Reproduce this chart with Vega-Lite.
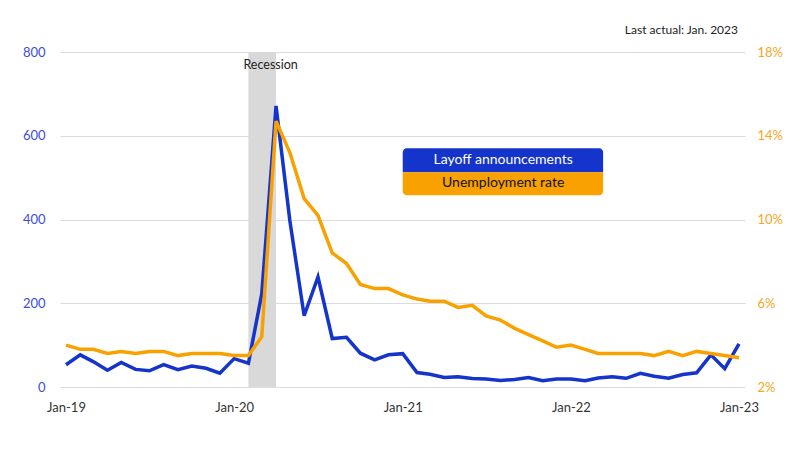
{
  "$schema": "https://vega.github.io/schema/vega-lite/v6.json",
  "width": 685,
  "height": 335,
  "autosize": {"type": "none"},
  "padding": {"left": 60, "top": 52, "right": 55, "bottom": 63},
  "background": "white",
  "config": {"font": "Lato", "view": {"stroke": null}},
  "title": {"text": "Last actual: Jan. 2023", "anchor": "end", "frame": "group", "fontSize": 12, "fontWeight": "normal", "color": "#222222", "offset": 9, "dx": -7},
  "datasets": {
    "main": [
      {"date": "2019-01-01", "layoffs": 53.0, "unemp": 4.0},
      {"date": "2019-02-01", "layoffs": 76.8, "unemp": 3.8},
      {"date": "2019-03-01", "layoffs": 60.6, "unemp": 3.8},
      {"date": "2019-04-01", "layoffs": 40.0, "unemp": 3.6},
      {"date": "2019-05-01", "layoffs": 58.6, "unemp": 3.7},
      {"date": "2019-06-01", "layoffs": 42.0, "unemp": 3.6},
      {"date": "2019-07-01", "layoffs": 38.8, "unemp": 3.7},
      {"date": "2019-08-01", "layoffs": 53.5, "unemp": 3.7},
      {"date": "2019-09-01", "layoffs": 41.6, "unemp": 3.5},
      {"date": "2019-10-01", "layoffs": 50.3, "unemp": 3.6},
      {"date": "2019-11-01", "layoffs": 44.6, "unemp": 3.6},
      {"date": "2019-12-01", "layoffs": 32.8, "unemp": 3.6},
      {"date": "2020-01-01", "layoffs": 67.7, "unemp": 3.5},
      {"date": "2020-02-01", "layoffs": 56.7, "unemp": 3.5},
      {"date": "2020-03-01", "layoffs": 222.3, "unemp": 4.4},
      {"date": "2020-04-01", "layoffs": 671.1, "unemp": 14.7},
      {"date": "2020-05-01", "layoffs": 397.0, "unemp": 13.2},
      {"date": "2020-06-01", "layoffs": 170.2, "unemp": 11.0},
      {"date": "2020-07-01", "layoffs": 262.6, "unemp": 10.2},
      {"date": "2020-08-01", "layoffs": 115.8, "unemp": 8.4},
      {"date": "2020-09-01", "layoffs": 118.8, "unemp": 7.9},
      {"date": "2020-10-01", "layoffs": 80.7, "unemp": 6.9},
      {"date": "2020-11-01", "layoffs": 64.8, "unemp": 6.7},
      {"date": "2020-12-01", "layoffs": 77.0, "unemp": 6.7},
      {"date": "2021-01-01", "layoffs": 79.6, "unemp": 6.4},
      {"date": "2021-02-01", "layoffs": 34.5, "unemp": 6.2},
      {"date": "2021-03-01", "layoffs": 30.6, "unemp": 6.1},
      {"date": "2021-04-01", "layoffs": 22.9, "unemp": 6.1},
      {"date": "2021-05-01", "layoffs": 24.6, "unemp": 5.8},
      {"date": "2021-06-01", "layoffs": 20.5, "unemp": 5.9},
      {"date": "2021-07-01", "layoffs": 18.9, "unemp": 5.4},
      {"date": "2021-08-01", "layoffs": 15.7, "unemp": 5.2},
      {"date": "2021-09-01", "layoffs": 17.9, "unemp": 4.8},
      {"date": "2021-10-01", "layoffs": 22.8, "unemp": 4.5},
      {"date": "2021-11-01", "layoffs": 14.9, "unemp": 4.2},
      {"date": "2021-12-01", "layoffs": 19.1, "unemp": 3.9},
      {"date": "2022-01-01", "layoffs": 19.1, "unemp": 4.0},
      {"date": "2022-02-01", "layoffs": 15.2, "unemp": 3.8},
      {"date": "2022-03-01", "layoffs": 21.4, "unemp": 3.6},
      {"date": "2022-04-01", "layoffs": 24.3, "unemp": 3.6},
      {"date": "2022-05-01", "layoffs": 20.7, "unemp": 3.6},
      {"date": "2022-06-01", "layoffs": 32.5, "unemp": 3.6},
      {"date": "2022-07-01", "layoffs": 25.8, "unemp": 3.5},
      {"date": "2022-08-01", "layoffs": 20.8, "unemp": 3.7},
      {"date": "2022-09-01", "layoffs": 30.0, "unemp": 3.5},
      {"date": "2022-10-01", "layoffs": 33.8, "unemp": 3.7},
      {"date": "2022-11-01", "layoffs": 76.8, "unemp": 3.6},
      {"date": "2022-12-01", "layoffs": 43.7, "unemp": 3.5},
      {"date": "2023-01-01", "layoffs": 102.9, "unemp": 3.4}
    ],
    "rec": [{"start": "2020-02-01", "end": "2020-04-01", "label": "Recession"}]
  },
  "layer": [
    {
      "layer": [
        {
          "data": {"name": "rec"},
          "mark": {"type": "rect", "color": "#d9d9d9", "opacity": 1},
          "encoding": {
            "x": {
              "field": "start", "type": "temporal", "title": null,
              "scale": {"type": "utc", "domain": [{"year": 2018, "month": 12, "date": 19, "utc": true}, {"year": 2023, "month": 1, "date": 14, "utc": true}]},
              "axis": {
                "values": [
                  {"year": 2019, "month": 1, "date": 1, "utc": true},
                  {"year": 2020, "month": 1, "date": 1, "utc": true},
                  {"year": 2021, "month": 1, "date": 1, "utc": true},
                  {"year": 2022, "month": 1, "date": 1, "utc": true},
                  {"year": 2023, "month": 1, "date": 1, "utc": true}
                ],
                "format": "%b-%y", "grid": false, "ticks": false, "domain": false,
                "labelFontSize": 13, "labelColor": "#333333", "labelPadding": 14, "labelFlush": false
              }
            },
            "x2": {"field": "end"}
          }
        },
        {
          "data": {"name": "main"},
          "mark": {"type": "line", "color": "#1434CB", "strokeWidth": 3.5},
          "encoding": {
            "x": {"field": "date", "type": "temporal", "title": null},
            "y": {
              "field": "layoffs", "type": "quantitative", "title": null,
              "scale": {"domain": [0, 800], "nice": false},
              "axis": {
                "values": [0, 200, 400, 600, 800], "grid": true, "gridColor": "#dcdcdc", "gridWidth": 1,
                "ticks": false, "domain": false, "labelColor": "#3a4ddb", "labelFontSize": 13, "labelPadding": 15
              }
            }
          }
        },
        {
          "data": {"name": "rec"},
          "mark": {"type": "text", "align": "left", "baseline": "middle", "dx": -5, "fontSize": 12.5, "color": "#222222"},
          "encoding": {
            "x": {"field": "start", "type": "temporal", "title": null},
            "y": {"datum": 770, "type": "quantitative", "title": null},
            "text": {"field": "label"}
          }
        },
        {
          "data": {"values": [{"series": "Layoff announcements"}]},
          "mark": {"type": "rect", "color": "#1434CB", "cornerRadiusTopLeft": 4, "cornerRadiusTopRight": 4},
          "encoding": {
            "x": {"datum": {"year": 2021, "month": 1, "date": 1, "utc": true}, "type": "temporal", "title": null},
            "x2": {"datum": {"year": 2022, "month": 3, "date": 12, "utc": true}},
            "y": {"datum": 570, "type": "quantitative", "title": null},
            "y2": {"datum": 513}
          }
        },
        {
          "data": {"values": [{"series": "Unemployment rate"}]},
          "mark": {"type": "rect", "color": "#F8A100", "cornerRadiusBottomLeft": 4, "cornerRadiusBottomRight": 4},
          "encoding": {
            "x": {"datum": {"year": 2021, "month": 1, "date": 1, "utc": true}, "type": "temporal", "title": null},
            "x2": {"datum": {"year": 2022, "month": 3, "date": 12, "utc": true}},
            "y": {"datum": 513, "type": "quantitative", "title": null},
            "y2": {"datum": 458}
          }
        },
        {
          "data": {"values": [{"series": "Layoff announcements"}]},
          "mark": {"type": "text", "align": "center", "baseline": "middle", "fontSize": 14, "color": "white"},
          "encoding": {
            "x": {"datum": {"year": 2021, "month": 8, "date": 7, "utc": true}, "type": "temporal", "title": null},
            "y": {"datum": 542, "type": "quantitative", "title": null},
            "text": {"field": "series"}
          }
        },
        {
          "data": {"values": [{"series": "Unemployment rate"}]},
          "mark": {"type": "text", "align": "center", "baseline": "middle", "fontSize": 14, "color": "#111111"},
          "encoding": {
            "x": {"datum": {"year": 2021, "month": 8, "date": 7, "utc": true}, "type": "temporal", "title": null},
            "y": {"datum": 486, "type": "quantitative", "title": null},
            "text": {"field": "series"}
          }
        }
      ]
    },
    {
      "data": {"name": "main"},
      "mark": {"type": "line", "color": "#F8A100", "strokeWidth": 3.5},
      "encoding": {
        "x": {"field": "date", "type": "temporal", "title": null},
        "y": {
          "field": "unemp", "type": "quantitative", "title": null,
          "scale": {"domain": [2, 18], "nice": false, "zero": false},
          "axis": {
            "orient": "right", "values": [2, 6, 10, 14, 18], "grid": false, "ticks": false, "domain": false,
            "labelExpr": "datum.value + '%'", "labelColor": "#F5A623", "labelFontSize": 13, "labelPadding": 12
          }
        }
      }
    }
  ],
  "resolve": {"scale": {"y": "independent"}}
}
